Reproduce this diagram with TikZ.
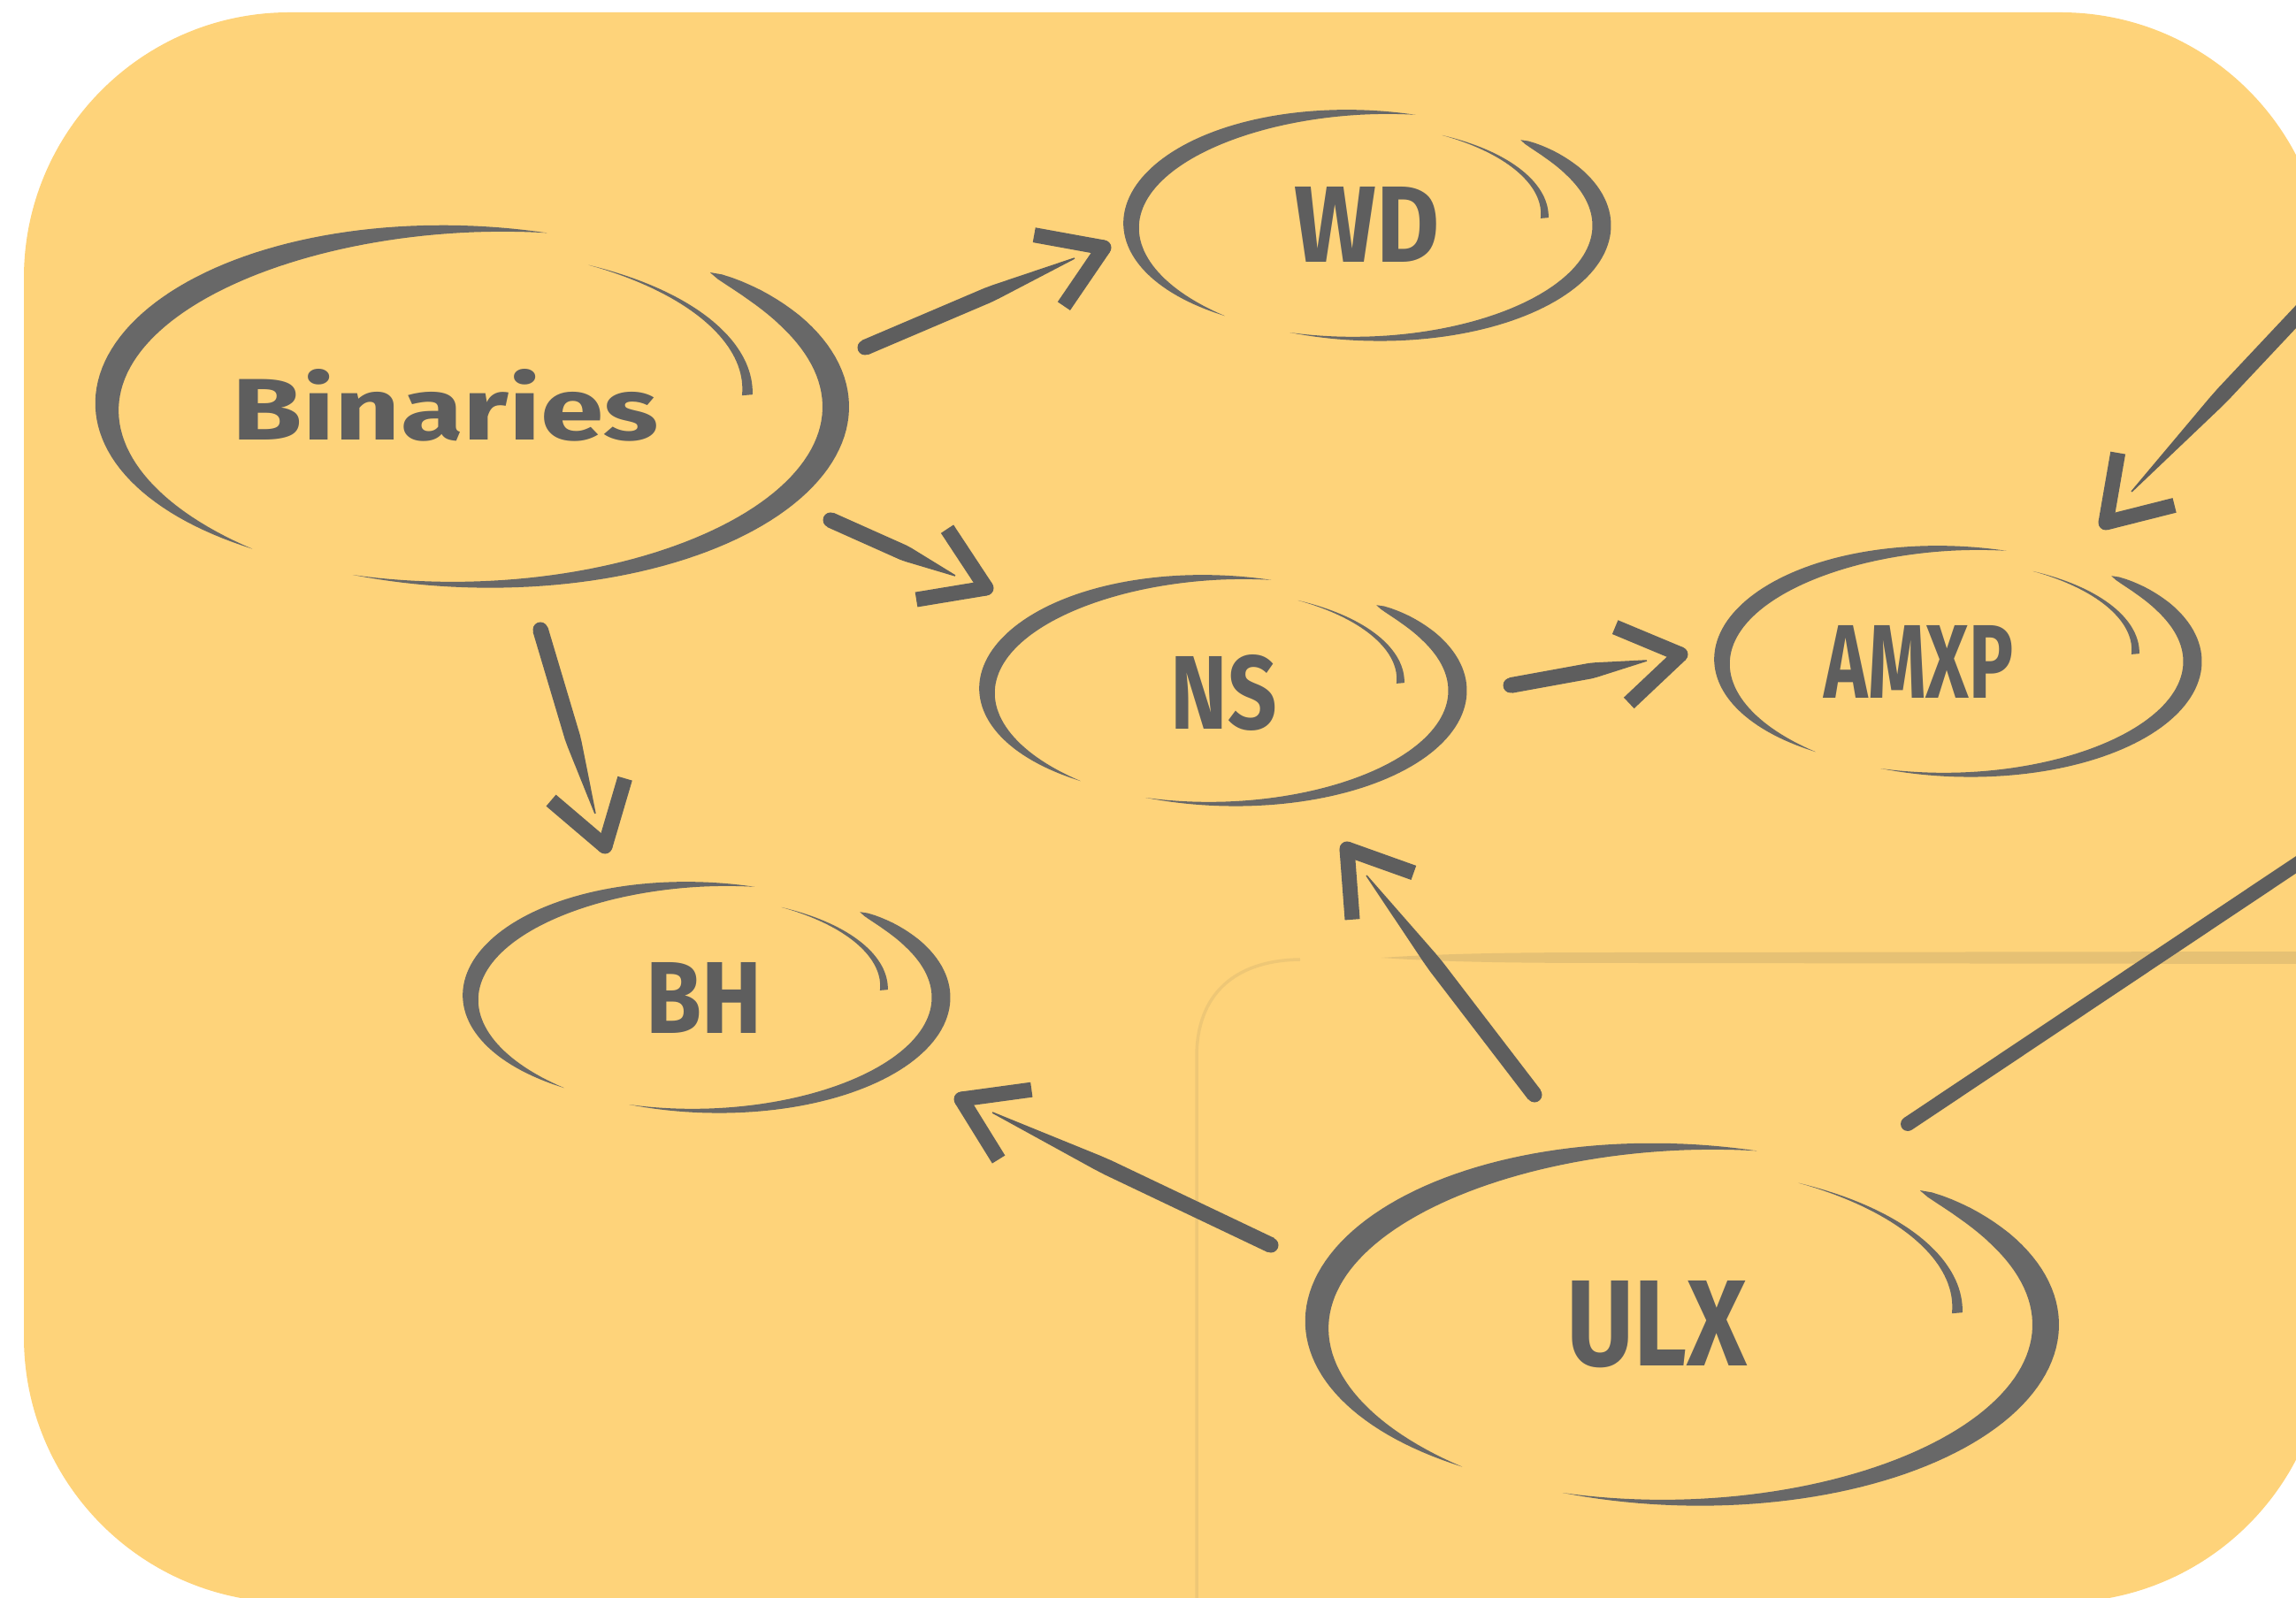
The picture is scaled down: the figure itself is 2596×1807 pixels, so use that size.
\documentclass[tikz,border=0pt]{standalone}
\usepackage{fontspec}
\newfontfamily\handfont{Fira Sans}
\usetikzlibrary{calc}
\definecolor{paper}{HTML}{FED37A}
\definecolor{inkc}{HTML}{5E5E5E}
\definecolor{ringc}{HTML}{686868}
\definecolor{faintc}{HTML}{E6C174}
\definecolor{faintlc}{HTML}{EEC776}
\tikzset{
  ringfill/.style={fill=ringc},
  inkfill/.style={fill=inkc},
  lbl/.style={inner sep=0pt, anchor=south west, text=inkc, font=\handfont\bfseries},
}
% tapered arc: cx cy rx ry a1 a2 halfwidth k
\newcommand\brusharc[8]{%
  \fill[ringfill] plot[variable=\t,domain=#5:#6,samples=80]
   ({#1+(#3+#7*sin(180*pow(abs((\t-(#5))/((#6)-(#5)))+0.0001,#8)))*cos(\t)},
    {#2+(#4+#7*sin(180*pow(abs((\t-(#5))/((#6)-(#5)))+0.0001,#8)))*sin(\t)})
   -- plot[variable=\t,domain=#6:#5,samples=80]
   ({#1+(#3-#7*sin(180*pow(abs((\t-(#5))/((#6)-(#5)))+0.0001,#8)))*cos(\t)},
    {#2+(#4-#7*sin(180*pow(abs((\t-(#5))/((#6)-(#5)))+0.0001,#8)))*sin(\t)})
   -- cycle;}
% hand drawn ring: cx cy rx ry hwLeft hwRight hwInner
\newcommand\sketchring[7]{%
  \brusharc{#1}{#2}{#3}{#4}{-233}{-78}{#5}{1}
  \brusharc{#1}{#2}{#3}{#4}{-409}{-251}{#6}{0.59}
  \fill[ringfill] plot[variable=\t,domain=-68:-5,samples=40]
   ({#1+((0.86-0.1*(\t+68)/63)*#3+#7*(\t+68)/63)*cos(\t)},
    {#2+((0.86-0.1*(\t+68)/63)*#4+#7*(\t+68)/63)*sin(\t)})
   -- plot[variable=\t,domain=-5:-68,samples=40]
   ({#1+((0.86-0.1*(\t+68)/63)*#3-#7*(\t+68)/63)*cos(\t)},
    {#2+((0.86-0.1*(\t+68)/63)*#4-#7*(\t+68)/63)*sin(\t)})
   -- cycle;}
% filled band from #1 to #2, half width (pt) given as formula #3 of \t in [0,1]
\newcommand\bandplot[3]{%
  \fill[inkfill] let \p1=(#1), \p2=(#2), \n1={veclen(\x2-\x1,\y2-\y1)} in
    plot[variable=\t,domain=0:1,samples=25]
      ({\x1+(\x2-\x1)*\t-(\y2-\y1)/\n1*(#3)},{\y1+(\y2-\y1)*\t+(\x2-\x1)/\n1*(#3)})
    -- plot[variable=\t,domain=1:0,samples=25]
      ({\x1+(\x2-\x1)*\t+(\y2-\y1)/\n1*(#3)},{\y1+(\y2-\y1)*\t-(\x2-\x1)/\n1*(#3)})
    -- cycle;}
% tapered brush shaft from #1 to #2
\newcommand\brushline[2]{%
  \fill[inkfill] (#1) circle[radius=0.085cm];
  \bandplot{#1}{#2}{2.42*min(1,(1.02-\t)/0.42)+0.1}}
% chevron head at #1, pointing away from #2
\newcommand\brushtip[2]{%
  \coordinate (tmpA) at ($(#1)!0.8cm!33:(#2)$);
  \coordinate (tmpB) at ($(#1)!0.8cm!-33:(#2)$);
  \fill[inkfill] (#1) circle[radius=0.085cm];
  \bandplot{#1}{tmpA}{2.42}
  \bandplot{#1}{tmpB}{2.42}}

\begin{document}
\begin{tikzpicture}[x=0.01cm,y=-0.01cm]
\useasboundingbox (0,0) rectangle (2596,1807);
\clip (0,0) rectangle (2596,1807);
% background card
\fill[paper, rounded corners=3cm] (27,14) rectangle (2630,1812);
% faint shapes behind
\fill[faintc] (1562,1083) .. controls (1650,1077) and (1750,1077) .. (1850,1077)
  -- (2600,1076) -- (2600,1090) -- (1850,1089) .. controls (1750,1089) and (1650,1089) .. (1562,1083) -- cycle;
\draw[faintlc, line width=0.035cm] (1353,1820) -- (1353,1195)
  .. controls (1353,1125) and (1395,1086) .. (1470,1085);

% rings
\sketchring{533}{460}{412}{201}{15}{15}{6}
\sketchring{1545}{255}{266}{128}{10}{10.5}{4.5}
\sketchring{1382}{781}{266}{128}{10}{10.5}{4.5}
\sketchring{2213}{748}{266}{128}{10}{10.5}{4.5}
\sketchring{798}{1128}{266}{128}{10}{10.5}{4.5}
\sketchring{1901}{1498}{412}{201}{15}{15}{6}

% labels
\node[lbl] (bin)  at (262,500)   {\resizebox{4.82cm}{0.80cm}{Binaries}};
\node[lbl] (wd)   at (1463,297)  {\resizebox{1.64cm}{0.85cm}{WD}};
\node[lbl] (ns)   at (1323,827)  {\resizebox{1.20cm}{0.84cm}{NS}};
\node[lbl] (amxp) at (2062,790)  {\resizebox{2.14cm}{0.82cm}{AMXP}};
\node[lbl] (bh)   at (730,1169)  {\resizebox{1.31cm}{0.80cm}{BH}};
\node[lbl] (ulx)  at (1771,1548) {\resizebox{2.04cm}{0.96cm}{ULX}};

% connector end points
\coordinate (binwdS) at (978,393);   \coordinate (binwdE) at (1215,292);  \coordinate (binwdT) at (1248,280);
\coordinate (binnsS) at (939,588);   \coordinate (binnsE) at (1080,651);  \coordinate (binnsT) at (1115,665);
\coordinate (binbhS) at (611,712);   \coordinate (binbhE) at (673,920);   \coordinate (binbhT) at (684,957);
\coordinate (nsamS)  at (1708,775);  \coordinate (nsamE)  at (1862,747);  \coordinate (nsamT)  at (1900,740);
\coordinate (ulxnsS) at (1735,1238); \coordinate (ulxnsE) at (1545,990);  \coordinate (ulxnsT) at (1523,960);
\coordinate (ulxbhS) at (1437,1408); \coordinate (ulxbhE) at (1122,1258); \coordinate (ulxbhT) at (1087,1243);
\coordinate (offA)   at (2660,290);  \coordinate (offamE) at (2410,556);  \coordinate (offamT) at (2381,591);
\coordinate (ulxoffS) at (2157,1271); \coordinate (offB) at (2720,895);

% connectors
\brushline{binwdS}{binwdE} \brushtip{binwdT}{binwdS}
\brushline{binnsS}{binnsE} \brushtip{binnsT}{binnsS}
\brushline{binbhS}{binbhE} \brushtip{binbhT}{binbhS}
\brushline{nsamS}{nsamE}   \brushtip{nsamT}{nsamS}
\brushline{ulxnsS}{ulxnsE} \brushtip{ulxnsT}{ulxnsS}
\brushline{ulxbhS}{ulxbhE} \brushtip{ulxbhT}{ulxbhS}
\brushline{offA}{offamE}   \brushtip{offamT}{offA}
\fill[inkfill] (ulxoffS) circle[radius=0.08cm];
\bandplot{ulxoffS}{offB}{2.3}
\end{tikzpicture}
\end{document}
